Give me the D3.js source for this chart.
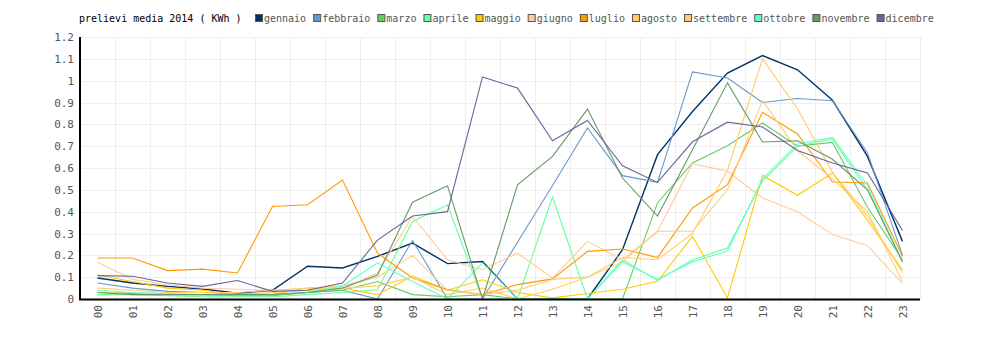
<!DOCTYPE html>
<html>
<head>
<meta charset="utf-8">
<script src="https://cdn.jsdelivr.net/npm/d3@7"></script>
<style>
  html, body { margin: 0; padding: 0; background: #fff; }
  svg { display: block; }
  text { font-family: "DejaVu Sans Mono", "Liberation Mono", monospace; font-size: 10px; }
</style>
</head>
<body>
<svg id="chart" width="1000" height="340"></svg>
<script>
const hours = ["00","01","02","03","04","05","06","07","08","09","10","11","12","13","14","15","16","17","18","19","20","21","22","23"];
const yTicks = [0, 0.1, 0.2, 0.3, 0.4, 0.5, 0.6, 0.7, 0.8, 0.9, 1, 1.1, 1.2];
const titleText = "prelievi media 2014 ( KWh )";
const months = ["gennaio","febbraio","marzo","aprile","maggio","giugno","luglio","agosto","settembre","ottobre","novembre","dicembre"];

const gennaio   = [0.096,0.073,0.058,0.046,0.027,0.040,0.150,0.142,0.195,0.256,0.162,0.172,0.000,0.000,0.000,0.226,0.661,0.859,1.035,1.115,1.050,0.910,0.653,0.264];
const febbraio  = [0.073,0.050,0.035,0.030,0.025,0.020,0.030,0.040,0.000,0.268,0.000,0.000,0.260,0.520,0.783,0.565,0.534,1.040,1.012,0.900,0.918,0.908,0.669,0.200];
const marzo     = [0.030,0.025,0.020,0.020,0.015,0.015,0.030,0.040,0.080,0.020,0.010,0.020,0.000,0.000,0.000,0.000,0.440,0.623,0.702,0.806,0.700,0.717,0.420,0.180];
const aprile    = [0.020,0.020,0.015,0.010,0.010,0.010,0.020,0.030,0.042,0.355,0.430,0.000,0.000,0.467,0.000,0.180,0.085,0.180,0.233,0.539,0.700,0.733,0.500,0.170];
const maggio    = [0.110,0.080,0.050,0.040,0.020,0.020,0.050,0.050,0.020,0.105,0.040,0.088,0.030,0.005,0.025,0.045,0.081,0.287,0.005,0.566,0.475,0.577,0.360,0.134];
const giugno    = [0.168,0.090,0.065,0.050,0.045,0.040,0.040,0.045,0.120,0.378,0.180,0.134,0.210,0.096,0.264,0.180,0.310,0.620,0.585,0.463,0.400,0.295,0.244,0.070];
const luglio    = [0.188,0.188,0.130,0.137,0.119,0.424,0.432,0.545,0.210,0.096,0.043,0.020,0.066,0.092,0.218,0.229,0.190,0.417,0.524,0.855,0.756,0.536,0.531,0.195];
const agosto    = [0.030,0.030,0.020,0.020,0.020,0.030,0.040,0.050,0.060,0.100,0.020,0.050,0.000,0.045,0.100,0.190,0.180,0.300,0.590,1.100,0.870,0.580,0.380,0.120];
const settembre = [0.050,0.040,0.030,0.030,0.030,0.040,0.050,0.060,0.100,0.200,0.040,0.020,0.040,0.090,0.100,0.170,0.310,0.310,0.500,0.910,0.680,0.550,0.400,0.080];
const ottobre   = [0.040,0.030,0.025,0.020,0.020,0.020,0.030,0.060,0.165,0.080,0.000,0.165,0.000,0.000,0.000,0.170,0.090,0.170,0.220,0.550,0.710,0.740,0.520,0.170];
const novembre  = [0.030,0.020,0.020,0.020,0.020,0.020,0.030,0.050,0.110,0.443,0.519,0.000,0.523,0.653,0.870,0.554,0.380,0.684,0.990,0.719,0.725,0.640,0.500,0.170];
const dicembre  = [0.107,0.104,0.073,0.058,0.085,0.035,0.040,0.073,0.270,0.380,0.400,1.017,0.966,0.725,0.818,0.610,0.534,0.720,0.810,0.788,0.680,0.623,0.577,0.314];

const seriesValues = [gennaio,febbraio,marzo,aprile,maggio,giugno,luglio,agosto,settembre,ottobre,novembre,dicembre];

const palette = ["#003366","#6699cc","#66cc66","#66ff99","#ffcc00","#ffcc99","#ff9900","#ffcc66","#ffcc77","#66ffcc","#669966","#666699"];
const color = d3.scaleOrdinal(months, palette);

const svg = d3.select("#chart");
const plotLeft = 80, plotRight = 920, plotTop = 37, plotBottom = 299;

const x = d3.scalePoint().domain(hours).range([plotLeft, plotRight]).padding(0.5);
const y = d3.scaleLinear().domain([0, 1.2]).range([plotBottom, plotTop]);
const step = x.step();

// grid
const grid = svg.append("g");
grid.selectAll("line.h").data(yTicks.filter(d => d > 0)).join("line")
  .attr("x1", plotLeft).attr("x2", plotRight)
  .attr("y1", d => Math.round(y(d)) + 0.5).attr("y2", d => Math.round(y(d)) + 0.5)
  .attr("stroke", "#eeeeee").attr("stroke-width", 1);
grid.selectAll("line.v").data(hours).join("line")
  .attr("x1", d => Math.round(x(d) + step / 2) + 0.5).attr("x2", d => Math.round(x(d) + step / 2) + 0.5)
  .attr("y1", plotTop).attr("y2", plotBottom)
  .attr("stroke", "#eeeeee").attr("stroke-width", 1);

// lines
const line = d3.line().x((d, i) => x(hours[i])).y(d => y(d));
svg.append("g").selectAll("path").data(seriesValues).join("path")
  .attr("d", d => line(d))
  .attr("fill", "none")
  .attr("stroke", (d, i) => color(months[i]))
  .attr("stroke-width", (d, i) => i === 0 ? 1.4 : 1.1);

// axes
const yAxis = d3.axisLeft(y).tickValues(yTicks).tickSize(0).tickPadding(6).tickFormat(d3.format("~g"));
const gy = svg.append("g").attr("transform", `translate(${plotLeft},0)`).call(yAxis);
gy.select(".domain").remove();
gy.selectAll("text").attr("fill", "#555").style("font-size", "11px")
  .style("font-family", "'DejaVu Sans Mono', monospace");

const xAxis = d3.axisBottom(x).tickSize(0).tickPadding(0);
const gx = svg.append("g").attr("transform", `translate(0,${plotBottom})`).call(xAxis);
gx.select(".domain").remove();
gx.selectAll("text")
  .attr("fill", "#555").style("font-size", "11px")
  .style("font-family", "'DejaVu Sans Mono', monospace")
  .attr("text-anchor", "end")
  .attr("dy", "0.35em")
  .attr("transform", "translate(0,6) rotate(-90)")
  .attr("x", 0).attr("y", 0);

svg.append("line").attr("x1", plotLeft).attr("x2", plotLeft).attr("y1", plotTop).attr("y2", plotBottom + 1)
  .attr("stroke", "#000").attr("stroke-width", 2);
svg.append("line").attr("x1", plotLeft - 1).attr("x2", plotRight).attr("y1", plotBottom + 0.5).attr("y2", plotBottom + 0.5)
  .attr("stroke", "#000").attr("stroke-width", 2);

// title + legend
svg.append("text").attr("x", 79).attr("y", 22).attr("fill", "#000").text(titleText);
const legend = svg.append("g");
let lx = 255;
months.forEach(m => {
  legend.append("rect").attr("x", lx + 0.5).attr("y", 14.5).attr("width", 7).attr("height", 7)
    .attr("fill", color(m)).attr("stroke", "#555").attr("stroke-width", 1);
  const t = legend.append("text").attr("x", lx + 9).attr("y", 22).attr("fill", "#555").text(m);
  lx += 9 + t.node().getComputedTextLength() + 7;
});
</script>
</body>
</html>
